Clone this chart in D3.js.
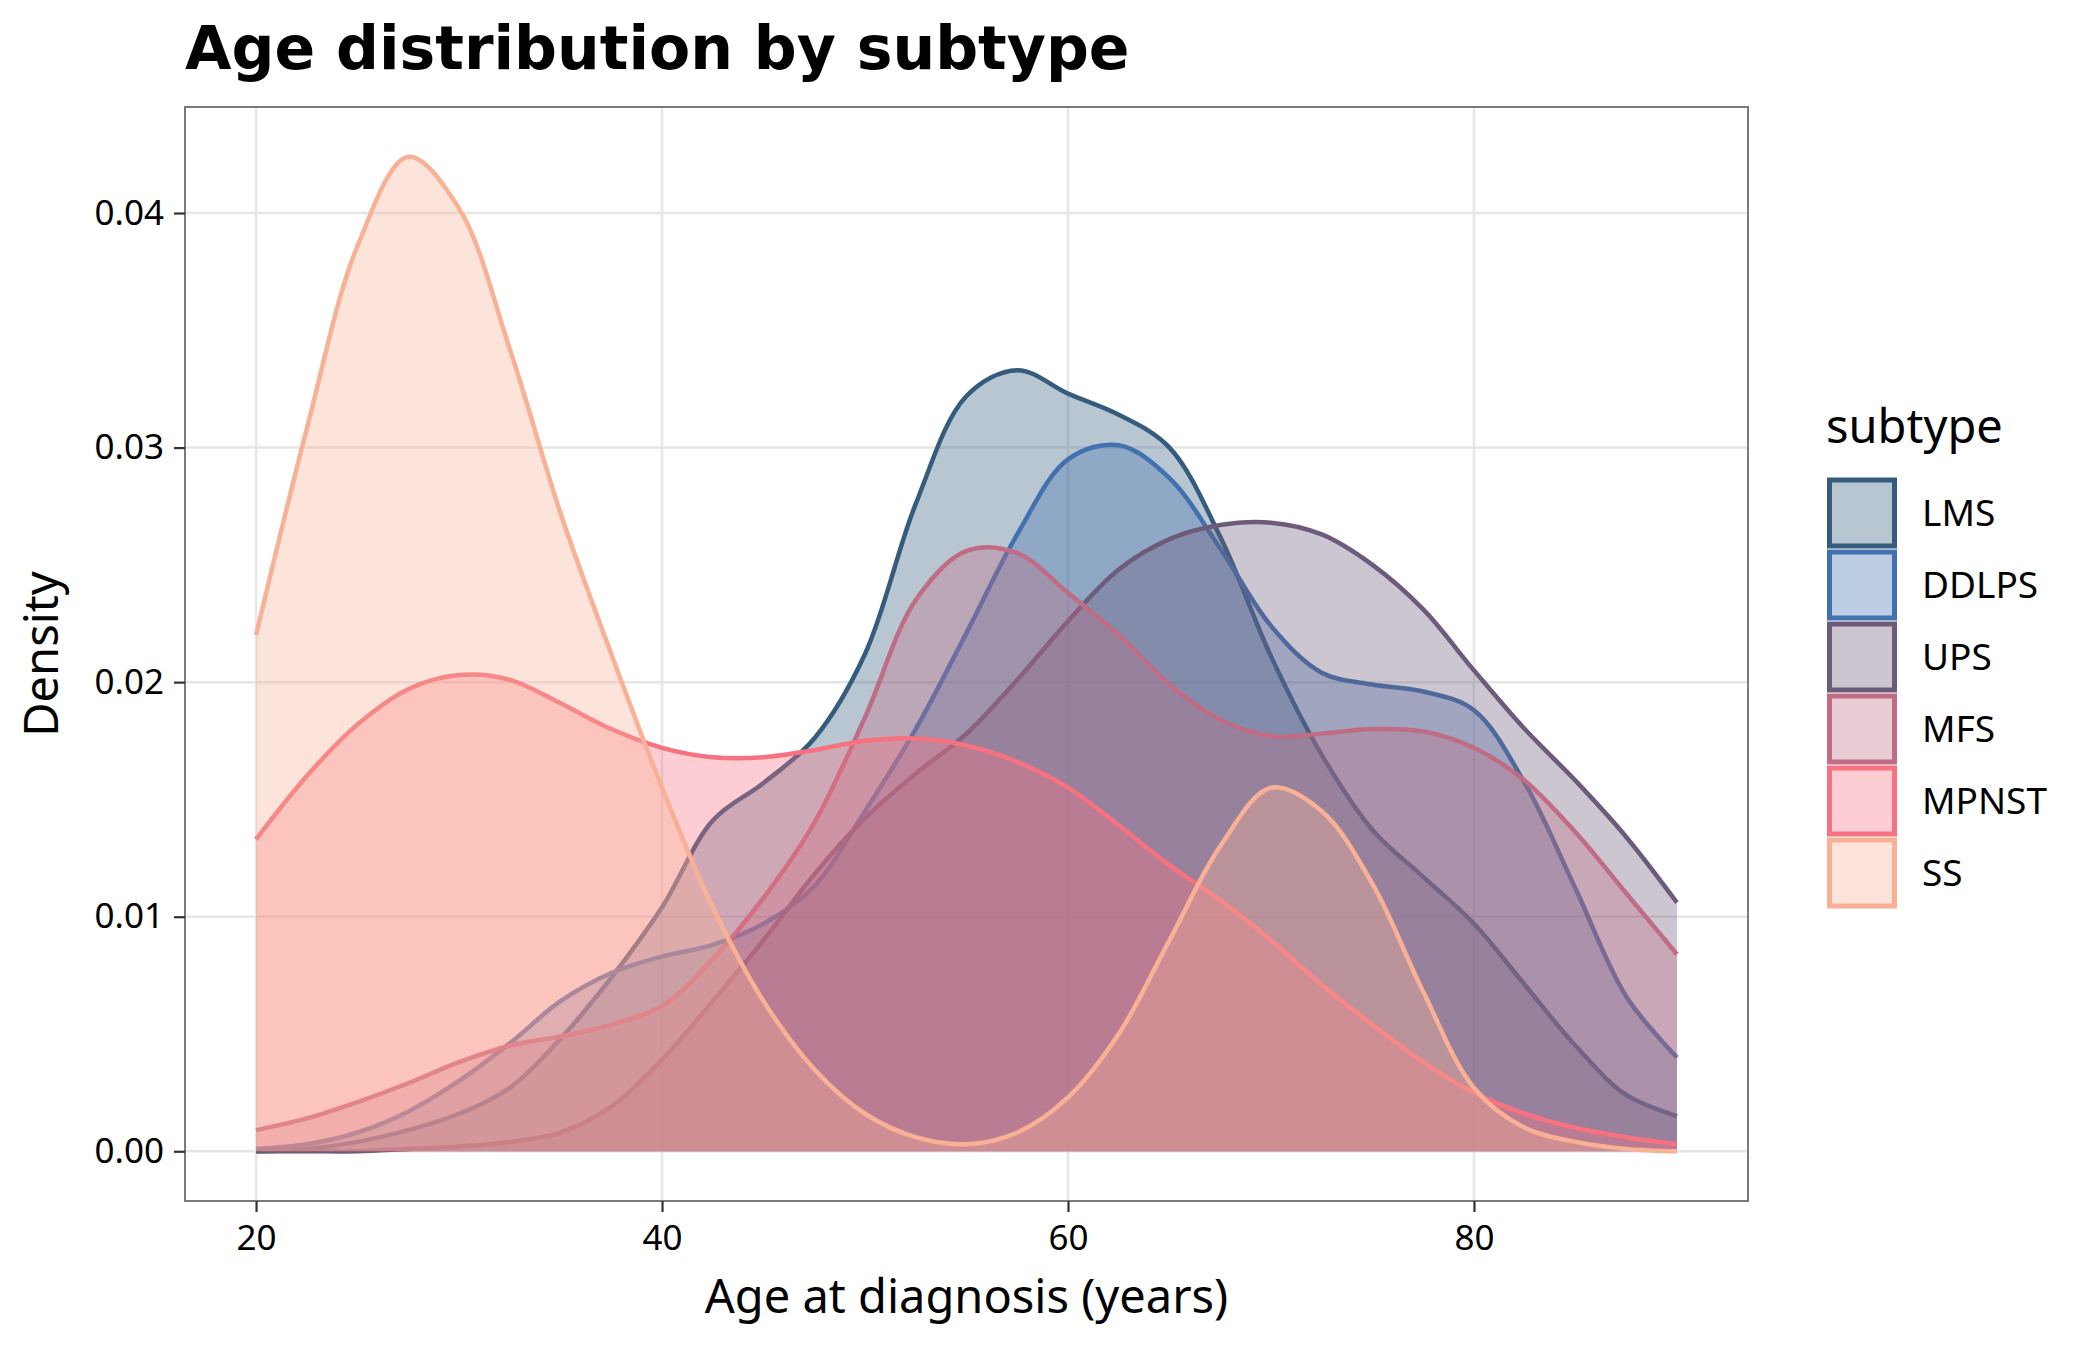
<!DOCTYPE html>
<html>
<head>
<meta charset="utf-8">
<script src="https://cdn.jsdelivr.net/npm/d3@7"></script>
<style>
  body { margin: 0; background: #fff; }
</style>
</head>
<body>
<div id="density-chart"></div>
<script>
// Data (density per age, one array per subtype)
const ages = [20, 22.5, 25, 27.5, 30, 32.5, 35, 37.5, 40, 42.5, 45, 47.5, 50, 52.5, 55,
              57.5, 60, 62.5, 65, 67.5, 70, 72.5, 75, 77.5, 80, 82.5, 85, 87.5, 90];
const subtypes = ["LMS", "DDLPS", "UPS", "MFS", "MPNST", "SS"];

const lms = [0.0000, 0.0001, 0.0004, 0.0009, 0.0016, 0.0027, 0.0048, 0.0074, 0.0104, 0.0141,
             0.0157, 0.0176, 0.0212, 0.0276, 0.0322, 0.0333, 0.0323, 0.0314, 0.0300, 0.0262,
             0.0211, 0.0169, 0.0137, 0.0117, 0.0097, 0.0071, 0.0045, 0.0024, 0.0015];
const ddlps = [0.0001, 0.0003, 0.0008, 0.0017, 0.0030, 0.0046, 0.0064, 0.0076, 0.0083, 0.0088,
               0.0097, 0.0113, 0.0145, 0.0180, 0.0221, 0.0263, 0.0295, 0.0301, 0.0287, 0.0257,
               0.0224, 0.0204, 0.0199, 0.0196, 0.0188, 0.0157, 0.0112, 0.0066, 0.0040];
const ups = [0.0000, 0.0000, 0.0000, 0.0001, 0.0002, 0.0004, 0.0008, 0.0019, 0.0039, 0.0064,
             0.0090, 0.0118, 0.0142, 0.0161, 0.0178, 0.0201, 0.0226, 0.0248, 0.0261, 0.0267,
             0.0268, 0.0263, 0.0250, 0.0231, 0.0205, 0.0180, 0.0158, 0.0134, 0.0106];
const mfs = [0.0009, 0.0014, 0.0021, 0.0029, 0.0038, 0.0045, 0.0049, 0.0054, 0.0062, 0.0082,
             0.0108, 0.0140, 0.0185, 0.0235, 0.0256, 0.0255, 0.0238, 0.0220, 0.0199, 0.0184,
             0.0177, 0.0178, 0.0180, 0.0179, 0.0172, 0.0158, 0.0136, 0.0110, 0.0084];
const mpnst = [0.0133, 0.0160, 0.0182, 0.0197, 0.0203, 0.0201, 0.0191, 0.0180, 0.0172, 0.0168,
               0.0168, 0.0171, 0.0175, 0.0176, 0.0173, 0.0166, 0.0155, 0.0139, 0.0122, 0.0107,
               0.0090, 0.0071, 0.0054, 0.0038, 0.0025, 0.0016, 0.0010, 0.0006, 0.0003];
const ss = [0.0220, 0.0308, 0.0386, 0.0424, 0.0402, 0.0342, 0.0272, 0.0212, 0.0155, 0.0104,
            0.0064, 0.0035, 0.0016, 0.0006, 0.0003, 0.0008, 0.0023, 0.0050, 0.0090, 0.0130,
            0.0155, 0.0145, 0.0114, 0.0068, 0.0027, 0.0010, 0.0004, 0.0001, 0.0000];

const xTicks = [20, 40, 60, 80];
const yTicks = [0, 0.01, 0.02, 0.03, 0.04];

const seriesValues = [lms, ddlps, ups, mfs, mpnst, ss];

// Colours per subtype
const colors = {
    LMS: "#355C7D",
    DDLPS: "#4171AF",
    UPS: "#6C5B7B",
    MFS: "#C06C84",
    MPNST: "#F67280",
    SS: "#F8B195"
};
const fillAlpha = 0.35;

const fullWidth = 2100, fullHeight = 1350;
const margin = { top: 107, right: 352, bottom: 149, left: 185 };
const width = fullWidth - margin.left - margin.right;
const height = fullHeight - margin.top - margin.bottom;

const sansFont = "'Noto Sans', 'Open Sans', sans-serif";

const svg = d3.select("#density-chart").append("svg")
    .attr("width", fullWidth)
    .attr("height", fullHeight)
    .style("font-family", sansFont);

svg.append("rect")
    .attr("width", fullWidth)
    .attr("height", fullHeight)
    .attr("fill", "#fff");

const g = svg.append("g")
    .attr("transform", `translate(${margin.left},${margin.top})`);

// Build series objects
const series = subtypes.map((name, i) => ({
    name: name,
    values: ages.map((a, j) => ({ age: a, d: seriesValues[i][j] }))
}));

// Scales with ggplot-style 5% expansion
const xMin = d3.min(ages), xMax = d3.max(ages);
const xPad = (xMax - xMin) * 0.05;
const x = d3.scaleLinear()
    .domain([xMin - xPad, xMax + xPad])
    .range([0, width]);

const yMax = d3.max(seriesValues, s => d3.max(s));
const y = d3.scaleLinear()
    .domain([-yMax * 0.05, yMax * 1.05])
    .range([height, 0]);

// Grid lines
g.append("g").selectAll("line")
    .data(xTicks)
    .join("line")
    .attr("x1", d => x(d)).attr("x2", d => x(d))
    .attr("y1", 0).attr("y2", height)
    .attr("stroke", "#E6E6E6")
    .attr("stroke-width", 2.5);

g.append("g").selectAll("line")
    .data(yTicks)
    .join("line")
    .attr("x1", 0).attr("x2", width)
    .attr("y1", d => y(d)).attr("y2", d => y(d))
    .attr("stroke", "#E6E6E6")
    .attr("stroke-width", 2.5);

// Density areas + upper outlines, drawn in factor order
const curve = d3.curveCatmullRom.alpha(0.5);

const area = d3.area()
    .x(d => x(d.age))
    .y0(y(0))
    .y1(d => y(d.d))
    .curve(curve);

const line = d3.line()
    .x(d => x(d.age))
    .y(d => y(d.d))
    .curve(curve);

series.forEach(s => {
    g.append("path")
        .datum(s.values)
        .attr("d", area)
        .attr("fill", colors[s.name])
        .attr("fill-opacity", fillAlpha);

    g.append("path")
        .datum(s.values)
        .attr("d", line)
        .attr("fill", "none")
        .attr("stroke", colors[s.name])
        .attr("stroke-width", 4.5);
});

// Panel border
g.append("rect")
    .attr("width", width)
    .attr("height", height)
    .attr("fill", "none")
    .attr("stroke", "#7A7A7A")
    .attr("stroke-width", 2);

// Axes
const xAxis = g.append("g")
    .attr("transform", `translate(0,${height})`)
    .call(d3.axisBottom(x).tickValues(xTicks).tickSize(11).tickPadding(13).tickFormat(d3.format("d")));

const yAxis = g.append("g")
    .call(d3.axisLeft(y).tickValues(yTicks).tickSize(11).tickPadding(10).tickFormat(d3.format(".2f")));

[xAxis, yAxis].forEach(ax => {
    ax.select(".domain").remove();
    ax.selectAll(".tick line")
        .attr("stroke", "#333")
        .attr("stroke-width", 2.2);
    ax.selectAll(".tick text")
        .attr("fill", "#000")
        .style("font-family", sansFont)
        .style("font-size", "35px");
});

// Title and axis titles
svg.append("text")
    .attr("x", margin.left)
    .attr("y", 69)
    .style("font-family", "'DejaVu Sans', sans-serif")
    .style("font-weight", "bold")
    .style("font-size", "60px")
    .attr("fill", "#000")
    .text("Age distribution by subtype");

svg.append("text")
    .attr("x", margin.left + width / 2)
    .attr("y", 1313)
    .attr("text-anchor", "middle")
    .style("font-size", "47px")
    .attr("fill", "#000")
    .text("Age at diagnosis (years)");

svg.append("text")
    .attr("transform", `translate(58,${margin.top + height / 2}) rotate(-90)`)
    .attr("text-anchor", "middle")
    .style("font-size", "47px")
    .attr("fill", "#000")
    .text("Density");

// Legend
const legend = svg.append("g")
    .attr("transform", "translate(1826, 0)");

legend.append("text")
    .attr("x", 0)
    .attr("y", 443)
    .style("font-size", "47px")
    .attr("fill", "#000")
    .text("subtype");

const keySize = 72;
subtypes.forEach((name, i) => {
    const top = 477 + i * keySize;
    legend.append("rect")
        .attr("x", 3.5)
        .attr("y", top + 3)
        .attr("width", keySize - 7)
        .attr("height", keySize - 6)
        .attr("fill", colors[name])
        .attr("fill-opacity", fillAlpha)
        .attr("stroke", colors[name])
        .attr("stroke-width", 5);

    legend.append("text")
        .attr("x", 96)
        .attr("y", top + keySize / 2)
        .attr("dy", "0.35em")
        .style("font-size", "37px")
        .attr("fill", "#000")
        .text(name);
});
</script>
</body>
</html>
